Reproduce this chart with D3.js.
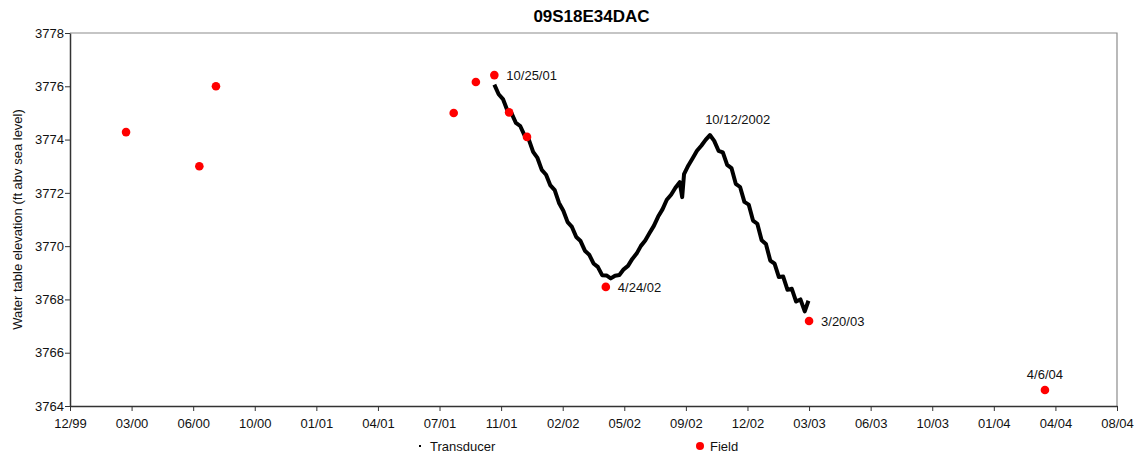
<!DOCTYPE html>
<html>
<head>
<meta charset="utf-8">
<script src="https://cdn.jsdelivr.net/npm/d3@7"></script>
<style>
  body { margin: 0; background: #fff; }
  svg { font-family: Arial, "Liberation Sans", sans-serif; }
  .label { font-size: 13px; fill: #111; }
</style>
</head>
<body>
<script>
const title = '09S18E34DAC';
const yLabel = 'Water table elevation (ft abv sea level)';

// x ticks are every 100 days (Excel date axis)
const tickDates = ['1999-12-06', '2000-03-15', '2000-06-23', '2000-10-01', '2001-01-09',
  '2001-04-19', '2001-07-28', '2001-11-05', '2002-02-13', '2002-05-24', '2002-09-01',
  '2002-12-10', '2003-03-20', '2003-06-28', '2003-10-06', '2004-01-14', '2004-04-23', '2004-08-01'];
const yTicks = [3764, 3766, 3768, 3770, 3772, 3774, 3776, 3778];

const fieldDates = ['2000-03-06', '2000-07-03', '2000-07-30', '2001-08-20', '2001-09-25',
  '2001-10-25', '2001-11-18', '2001-12-17', '2002-04-24', '2003-03-20', '2004-04-06'];
const fieldLevels = [3774.28, 3773.0, 3776.0, 3775.0, 3776.16,
  3776.42, 3775.02, 3774.1, 3768.47, 3767.19, 3764.6];

const transducerDates = ['2001-10-25', '2001-11-01', '2001-11-08', '2001-11-15', '2001-11-22',
  '2001-11-29', '2001-12-06', '2001-12-13', '2001-12-20', '2001-12-27', '2002-01-03',
  '2002-01-10', '2002-01-17', '2002-01-24', '2002-01-31', '2002-02-07', '2002-02-14',
  '2002-02-21', '2002-02-28', '2002-03-07', '2002-03-14', '2002-03-21', '2002-03-28',
  '2002-04-04', '2002-04-11', '2002-04-18', '2002-04-25', '2002-05-02', '2002-05-09',
  '2002-05-16', '2002-05-23', '2002-05-30', '2002-06-06', '2002-06-13', '2002-06-20',
  '2002-06-27', '2002-07-04', '2002-07-11', '2002-07-18', '2002-07-25', '2002-08-01',
  '2002-08-08', '2002-08-15', '2002-08-22', '2002-08-26', '2002-08-29', '2002-09-05',
  '2002-09-12', '2002-09-19', '2002-09-26', '2002-10-03', '2002-10-10', '2002-10-17',
  '2002-10-24', '2002-10-31', '2002-11-07', '2002-11-14', '2002-11-21', '2002-11-28',
  '2002-12-05', '2002-12-12', '2002-12-19', '2002-12-26', '2003-01-02', '2003-01-09',
  '2003-01-16', '2003-01-23', '2003-01-30', '2003-02-06', '2003-02-13', '2003-02-20',
  '2003-02-27', '2003-03-06', '2003-03-13', '2003-03-19'];
const transducerLevels = [3776.06, 3775.70, 3775.52, 3775.10, 3774.98,
  3774.63, 3774.51, 3774.16, 3774.00, 3773.54, 3773.31,
  3772.86, 3772.68, 3772.28, 3772.10, 3771.62, 3771.33,
  3770.90, 3770.72, 3770.34, 3770.19, 3769.83, 3769.68,
  3769.35, 3769.22, 3768.91, 3768.90, 3768.79, 3768.89,
  3768.92, 3769.13, 3769.26, 3769.52, 3769.72, 3770.01,
  3770.21, 3770.49, 3770.76, 3771.11, 3771.38, 3771.74,
  3771.93, 3772.19, 3772.40, 3771.84, 3772.70, 3773.03,
  3773.30, 3773.58, 3773.77, 3773.99, 3774.17, 3773.95,
  3773.58, 3773.52, 3773.05, 3772.93, 3772.34, 3772.22,
  3771.66, 3771.56, 3770.96, 3770.84, 3770.22, 3770.08,
  3769.46, 3769.34, 3768.84, 3768.86, 3768.36, 3768.40,
  3767.92, 3768.00, 3767.55, 3767.95];

const notes = [
  { date: '2001-10-25', level: 3776.42, text: '10/25/01', dx: 12, dy: 5, anchor: 'start' },
  { date: '2002-04-24', level: 3768.47, text: '4/24/02', dx: 12, dy: 5, anchor: 'start' },
  { date: '2002-10-12', level: 3774.17, text: '10/12/2002', dx: -6, dy: -11, anchor: 'start' },
  { date: '2003-03-20', level: 3767.19, text: '3/20/03', dx: 12, dy: 5, anchor: 'start' },
  { date: '2004-04-06', level: 3764.6, text: '4/6/04', dx: 0, dy: -11, anchor: 'middle' }
];

const width = 1141;
const height = 459;
const margin = { top: 33, right: 24, bottom: 53, left: 70 };
const parse = d3.utcParse('%Y-%m-%d');

const svg = d3.select('body').append('svg')
  .attr('width', width)
  .attr('height', height)
;

const x = d3.scaleUtc()
  .domain([parse(tickDates[0]), parse(tickDates[tickDates.length - 1])])
  .range([margin.left, width - margin.right])
;
const y = d3.scaleLinear()
  .domain([3764, 3778])
  .range([height - margin.bottom, margin.top])
;

// plot frame (top and right)
svg.append('path')
  .attr('d', `M${x.range()[0]},${y.range()[1]}H${x.range()[1]}V${y.range()[0]}`)
  .attr('fill', 'none')
  .attr('stroke', '#8c8c8c')
  .attr('stroke-width', 1.2)
;

const xAxis = svg.append('g')
  .attr('transform', `translate(0,${y.range()[0]})`)
  .call(d3.axisBottom(x)
    .tickValues(tickDates.map(parse))
    .tickFormat(d3.utcFormat('%m/%y'))
    .tickSize(5)
    .tickSizeOuter(0))
;
const yAxis = svg.append('g')
  .attr('transform', `translate(${x.range()[0]},0)`)
  .call(d3.axisLeft(y)
    .tickValues(yTicks)
    .tickFormat(d3.format('d'))
    .tickSize(5)
    .tickSizeOuter(0))
;
[xAxis, yAxis].forEach(function (g) {
  g.select('.domain').attr('stroke', '#333').attr('stroke-width', 1.5);
  g.selectAll('.tick line').attr('stroke', '#333');
  g.selectAll('.tick text')
    .attr('font-size', 13)
    .attr('font-family', 'Arial, "Liberation Sans", sans-serif')
    .attr('fill', '#111');
});
xAxis.selectAll('.tick text').attr('dy', '1.05em');
yAxis.selectAll('.tick text').attr('x', -6);

svg.append('text')
  .attr('x', (x.range()[0] + x.range()[1]) / 2 - 2)
  .attr('y', 22)
  .attr('text-anchor', 'middle')
  .attr('font-size', 17)
  .attr('font-weight', 'bold')
  .text(title)
;
svg.append('text')
  .attr('class', 'label')
  .attr('transform', `translate(22,${(y.range()[0] + y.range()[1]) / 2}) rotate(-90)`)
  .attr('text-anchor', 'middle')
  .text(yLabel)
;

// transducer record
const line = d3.line()
  .x((d, i) => x(parse(transducerDates[i])))
  .y(d => y(d))
;
svg.append('path')
  .datum(transducerLevels)
  .attr('d', line)
  .attr('fill', 'none')
  .attr('stroke', '#000')
  .attr('stroke-width', 4)
  .attr('stroke-linejoin', 'round')
;

// field measurements
svg.append('g')
  .selectAll('circle')
  .data(fieldLevels)
  .enter().append('circle')
  .attr('cx', (d, i) => x(parse(fieldDates[i])))
  .attr('cy', d => y(d))
  .attr('r', 4.3)
  .attr('fill', '#ff0000')
;

svg.append('g')
  .selectAll('text')
  .data(notes)
  .enter().append('text')
  .attr('class', 'label')
  .attr('x', d => x(parse(d.date)) + d.dx)
  .attr('y', d => y(d.level) + d.dy)
  .attr('text-anchor', d => d.anchor)
  .text(d => d.text)
;

// legend
const legend = svg.append('g')
  .attr('transform', `translate(0,${height - 13})`)
;
legend.append('rect')
  .attr('x', 419)
  .attr('y', -1)
  .attr('width', 2)
  .attr('height', 2)
  .attr('fill', '#000')
;
legend.append('text')
  .attr('class', 'label')
  .attr('x', 430)
  .attr('y', 5)
  .text('Transducer')
;
legend.append('circle')
  .attr('cx', 700)
  .attr('cy', 0)
  .attr('r', 4)
  .attr('fill', '#ff0000')
;
legend.append('text')
  .attr('class', 'label')
  .attr('x', 710)
  .attr('y', 5)
  .text('Field')
;
</script>
</body>
</html>
